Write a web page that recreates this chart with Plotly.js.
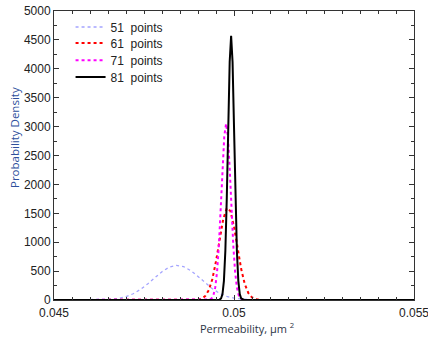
<!DOCTYPE html>
<html><head><meta charset="utf-8">
<script src="https://cdn.plot.ly/plotly-3.0.1.min.js"></script>
<style>html,body{margin:0;padding:0;background:#fff}#chart{width:428px;height:338px}</style>
</head><body><div id="chart"></div>
<script>
// Series names
var seriesNames = ['51  points', '61  points', '71  points', '81  points'];

// 51 points (light blue)
var x51 = [0.0450, 0.0460, 0.0462, 0.0464, 0.0466, 0.0468, 0.0470, 0.0472, 0.0474, 0.0476, 0.0478, 0.0480, 0.0482, 0.0484, 0.0486, 0.0488, 0.0490, 0.0492, 0.0494, 0.0496, 0.0498, 0.0500, 0.0502, 0.0504, 0.0506, 0.0508, 0.0550];
var y51 = [0, 0, 2, 6, 13, 30, 59, 108, 182, 278, 386, 490, 568, 600, 578, 508, 408, 299, 195, 115, 62, 32, 15, 6, 2, 0, 0];

// 61 points (red)
var x61 = [0.0450, 0.0489, 0.0490, 0.0491, 0.0492, 0.0493, 0.0494, 0.0495, 0.0496, 0.0497, 0.0498, 0.0499, 0.0500, 0.0501, 0.0502, 0.0503, 0.0504, 0.0505, 0.0506, 0.0507, 0.0508, 0.0550];
var y61 = [0, 0, 6, 22, 67, 170, 364, 670, 1048, 1398, 1589, 1539, 1270, 893, 535, 273, 119, 44, 14, 4, 1, 0];

// 71 points (magenta)
var x71 = [0.0450, 0.04928, 0.04933, 0.04938, 0.04943, 0.04948, 0.04953, 0.04958, 0.04963, 0.04968, 0.04973, 0.04978, 0.04983, 0.04988, 0.04993, 0.04998, 0.05003, 0.05008, 0.05013, 0.05018, 0.05023, 0.05028, 0.0550];
var y71 = [0, 0, 8, 29, 86, 222, 493, 946, 1583, 2281, 2837, 3050, 2837, 2281, 1583, 946, 493, 222, 86, 29, 8, 0, 0];

// 81 points (black)
var x81 = [0.0450, 0.04956, 0.04960, 0.04964, 0.04968, 0.04972, 0.04976, 0.04980, 0.04984, 0.04988, 0.04992, 0.04996, 0.05000, 0.05004, 0.05008, 0.05012, 0.05016, 0.05020, 0.05024, 0.05028, 0.0550];
var y81 = [0, 0, 6, 26, 104, 332, 853, 1776, 3004, 4117, 4570, 4117, 3004, 1776, 853, 332, 104, 26, 6, 0, 0];

var xTickVals = [0.045, 0.05, 0.055];
var xTickText = ['0.045', '0.05', '0.055'];
var yTickVals = [0, 500, 1000, 1500, 2000, 2500, 3000, 3500, 4000, 4500, 5000];

var xTitle = 'Permeability, μm <sup>2</sup>';
var yTitle = 'Probability Density';

var traces = [
  {x: x51, y: y51, name: seriesNames[0], legend: 'legend', mode: 'lines', line: {color: '#a4a4ff', width: 1.3, dash: 'dot'}},
  {x: x61, y: y61, name: seriesNames[1], legend: 'legend2', mode: 'lines', line: {color: '#ff0000', width: 2, dash: 'dot'}},
  {x: x71, y: y71, name: seriesNames[2], legend: 'legend3', mode: 'lines', line: {color: '#ff00ff', width: 2, dash: 'dot'}},
  {x: x81, y: y81, name: seriesNames[3], legend: 'legend4', mode: 'lines', line: {color: '#000000', width: 2}}
];

function leg(yf) {
  return {x: 0.046, y: yf, xanchor: 'left', yanchor: 'middle', bgcolor: 'rgba(0,0,0,0)',
          font: {family: 'Liberation Sans, Arial, sans-serif', size: 12, color: '#222'}};
}

var layout = {
  width: 428, height: 338,
  margin: {l: 54, r: 14, t: 11, b: 38},
  paper_bgcolor: '#ffffff', plot_bgcolor: '#ffffff',
  font: {family: 'Liberation Sans, Arial, sans-serif', size: 12, color: '#222'},
  showlegend: true,
  legend: leg(0.9446),
  legend2: leg(0.889),
  legend3: leg(0.830),
  legend4: leg(0.7716),
  xaxis: {
    range: [0.045, 0.055], tickmode: 'array', tickvals: xTickVals, ticktext: xTickText,
    ticks: 'inside', ticklen: 5, tickcolor: '#333', showline: true, linecolor: '#333', linewidth: 1,
    mirror: 'allticks', showgrid: false, zeroline: false, ticklabeloverflow: 'allow', ticklabelstandoff: 2,
    minor: {dtick: 0.0005, tick0: 0.045, ticks: 'inside', ticklen: 3, tickcolor: '#333', showgrid: false},
    tickfont: {size: 12, color: '#222'}
  },
  yaxis: {
    range: [0, 5000], tickmode: 'array', tickvals: yTickVals,
    ticks: 'inside', ticklen: 5, tickcolor: '#333', showline: true, linecolor: '#333', linewidth: 1,
    mirror: 'allticks', showgrid: false, zeroline: false,
    minor: {dtick: 250, tick0: 0, ticks: 'inside', ticklen: 3, tickcolor: '#333', showgrid: false},
    tickfont: {size: 12, color: '#222'}
  },
  annotations: [
    {text: xTitle, xref: 'paper', yref: 'paper', x: (247 - 54) / 360, y: (300 - 328) / 289,
     xanchor: 'center', yanchor: 'middle', showarrow: false,
     font: {family: 'Open Sans, sans-serif', size: 11, color: '#2b3445'}},
    {text: yTitle, xref: 'paper', yref: 'paper', x: (14 - 54) / 360, y: (300 - 138) / 289,
     xanchor: 'center', yanchor: 'middle', textangle: -90, showarrow: false,
     font: {family: 'Open Sans, sans-serif', size: 11.5, color: '#2e4f9c'}}
  ]
};

Plotly.newPlot('chart', traces, layout, {displayModeBar: false, staticPlot: true});
</script>
</body></html>
